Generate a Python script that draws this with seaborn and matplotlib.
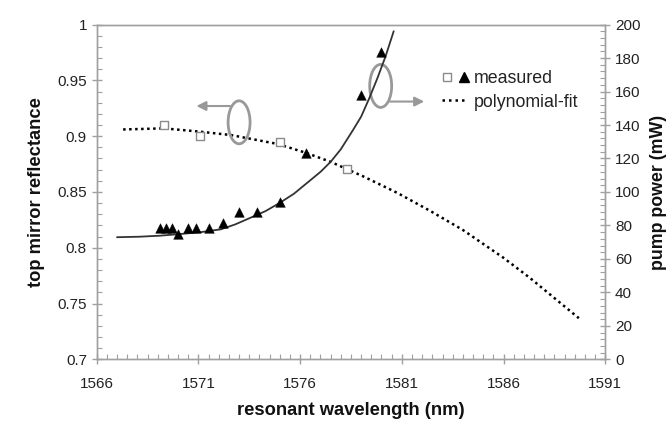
import numpy as np
import pandas as pd
import matplotlib
matplotlib.use("Agg")
import matplotlib.pyplot as plt
import seaborn as sns
from matplotlib.patches import Ellipse
from matplotlib.lines import Line2D
from matplotlib.legend_handler import HandlerTuple
from matplotlib.ticker import MultipleLocator

# ---- data ----
refl_wl = [1569.3, 1571.1, 1575.0, 1578.3]
refl_val = [0.910, 0.900, 0.895, 0.871]

refl_fit_wl = [1567.3, 1569.3, 1571.1, 1572.6, 1574.9, 1576.3, 1577.5,
               1579.1, 1580.8, 1582.4, 1584.0, 1586.0, 1587.3, 1589.7]
refl_fit_val = [0.906, 0.907, 0.904, 0.901, 0.893, 0.885, 0.877,
                0.864, 0.849, 0.833, 0.816, 0.791, 0.773, 0.737]

pump_wl = [1569.1, 1569.4, 1569.7, 1570.0, 1570.5, 1570.9, 1571.5,
           1572.2, 1573.0, 1573.9, 1575.0, 1576.3, 1579.0, 1580.0]
pump_val = [78.3, 78.3, 78.3, 74.9, 78.3, 78.3, 78.3,
            81.7, 88.1, 88.1, 94.2, 123.5, 157.9, 183.8]

pump_fit_wl = [1567.0, 1568.1, 1569.1, 1570.1, 1571.1, 1572.1, 1572.8,
               1573.5, 1574.3, 1575.0, 1575.7, 1576.3, 1577.0, 1577.5,
               1578.0, 1578.6, 1579.0, 1579.4, 1579.8, 1580.2, 1580.6]
pump_fit_val = [73.0, 73.3, 73.9, 74.9, 76.0, 77.7, 80.6,
                84.3, 88.6, 93.5, 99.0, 105.0, 112.0, 118.0,
                125.5, 137.0, 145.0, 156.0, 168.0, 181.0, 196.0]

x_ticks = [1566, 1571, 1576, 1581, 1586, 1591]
y_ticks = [0.7, 0.75, 0.8, 0.85, 0.9, 0.95, 1]
y2_ticks = [0, 20, 40, 60, 80, 100, 120, 140, 160, 180, 200]

refl_df = pd.DataFrame({"wl": refl_wl, "val": refl_val})
refl_fit_df = pd.DataFrame({"wl": refl_fit_wl, "val": refl_fit_val})
pump_df = pd.DataFrame({"wl": pump_wl, "val": pump_val})
pump_fit_df = pd.DataFrame({"wl": pump_fit_wl, "val": pump_fit_val})

sns.set_style("ticks")
plt.rcParams["font.family"] = ["Liberation Sans", "DejaVu Sans"]

fig = plt.figure(figsize=(6.7, 4.3), dpi=100)
ax = fig.add_axes([0.1443, 0.164, 0.9034 - 0.1443, 0.943 - 0.164])
ax2 = ax.twinx()

spine_c = "#a0a0a0"

# left axis: reflectance
sns.lineplot(data=refl_fit_df, x="wl", y="val", ax=ax, color="black",
             lw=1.8, linestyle=(0, (1.0, 1.4)), sort=False, estimator=None)
sns.scatterplot(data=refl_df, x="wl", y="val", ax=ax, marker="s", s=38,
                facecolor="white", edgecolor="#8a8a8a", linewidth=1.0, zorder=4)

# right axis: pump power
sns.lineplot(data=pump_fit_df, x="wl", y="val", ax=ax2, color="#333333",
             lw=1.3, sort=False, estimator=None)
sns.scatterplot(data=pump_df, x="wl", y="val", ax=ax2, marker="^", s=48,
                color="black", edgecolor="black", linewidth=0.3, zorder=5)

ax.set_xlim(1566, 1591)
ax.set_ylim(0.7, 1.0)
ax2.set_ylim(0, 200)
ax.set_xticks(x_ticks)
ax.set_yticks(y_ticks)
ax.set_yticklabels([("%g" % v) for v in y_ticks])
ax2.set_yticks(y2_ticks)
ax.xaxis.set_minor_locator(MultipleLocator(0.5))
ax.yaxis.set_minor_locator(MultipleLocator(0.01))
ax2.yaxis.set_minor_locator(MultipleLocator(4))

for a in (ax, ax2):
    for s in a.spines.values():
        s.set_color(spine_c)
        s.set_linewidth(1.0)
        s.set_visible(True)

ax.tick_params(axis="both", which="major", direction="inout", length=7,
               width=1.0, color=spine_c, labelsize=11, labelcolor="#222222")
ax.tick_params(axis="both", which="minor", direction="in", length=3.5,
               width=0.8, color=spine_c)
ax2.tick_params(axis="y", which="major", direction="inout", length=7,
                width=1.0, color=spine_c, labelsize=11, labelcolor="#222222")
ax2.tick_params(axis="y", which="minor", direction="in", length=3.5,
                width=0.8, color=spine_c)
ax.tick_params(axis="x", which="major", pad=9)

ax.set_xlabel("resonant wavelength (nm)", fontsize=13.2, fontweight="bold",
              labelpad=8, color="#111111")
ax.set_ylabel("top mirror reflectance", fontsize=13.2, fontweight="bold",
              labelpad=9, color="#111111")
ax2.set_ylabel("pump power (mW)", fontsize=12.8, fontweight="bold",
               labelpad=7, color="#111111")

# ellipses and arrows
ell_c = "#999999"
ax.add_patch(Ellipse((1573.0, 0.9124), 1.08, 0.0385, fill=False,
                     edgecolor=ell_c, lw=2.0, zorder=3))
ax.add_patch(Ellipse((1579.96, 0.945), 1.08, 0.0385, fill=False,
                     edgecolor=ell_c, lw=2.0, zorder=3))
ax.annotate("", xy=(1570.9, 0.927), xytext=(1572.55, 0.927),
            arrowprops=dict(arrowstyle="-|>", color=ell_c, lw=1.5,
                            mutation_scale=14, shrinkA=0, shrinkB=0))
ax.annotate("", xy=(1582.1, 0.931), xytext=(1580.4, 0.931),
            arrowprops=dict(arrowstyle="-|>", color=ell_c, lw=1.5,
                            mutation_scale=14, shrinkA=0, shrinkB=0))

# legend
h_sq = Line2D([], [], marker="s", ls="none", markersize=5.5,
              markerfacecolor="white", markeredgecolor="#8a8a8a", mew=1.0)
h_tr = Line2D([], [], marker="^", ls="none", markersize=6.5, color="black")
h_fit = Line2D([], [], color="black", lw=1.8, linestyle=(0, (1.0, 1.6)))
leg = ax2.legend([(h_sq, h_tr), h_fit], ["measured", "polynomial-fit"],
                 handler_map={tuple: HandlerTuple(ndivide=None, pad=0.5)},
                 loc="upper left", bbox_to_anchor=(430 / 670, 1 - 58 / 430),
                 bbox_transform=fig.transFigure, frameon=False,
                 fontsize=12.8, handlelength=1.45, handletextpad=0.3,
                 labelspacing=0.35, borderpad=0.2)
for t in leg.get_texts():
    t.set_color("#222222")

fig.savefig("out.png", dpi=100, facecolor="white")
